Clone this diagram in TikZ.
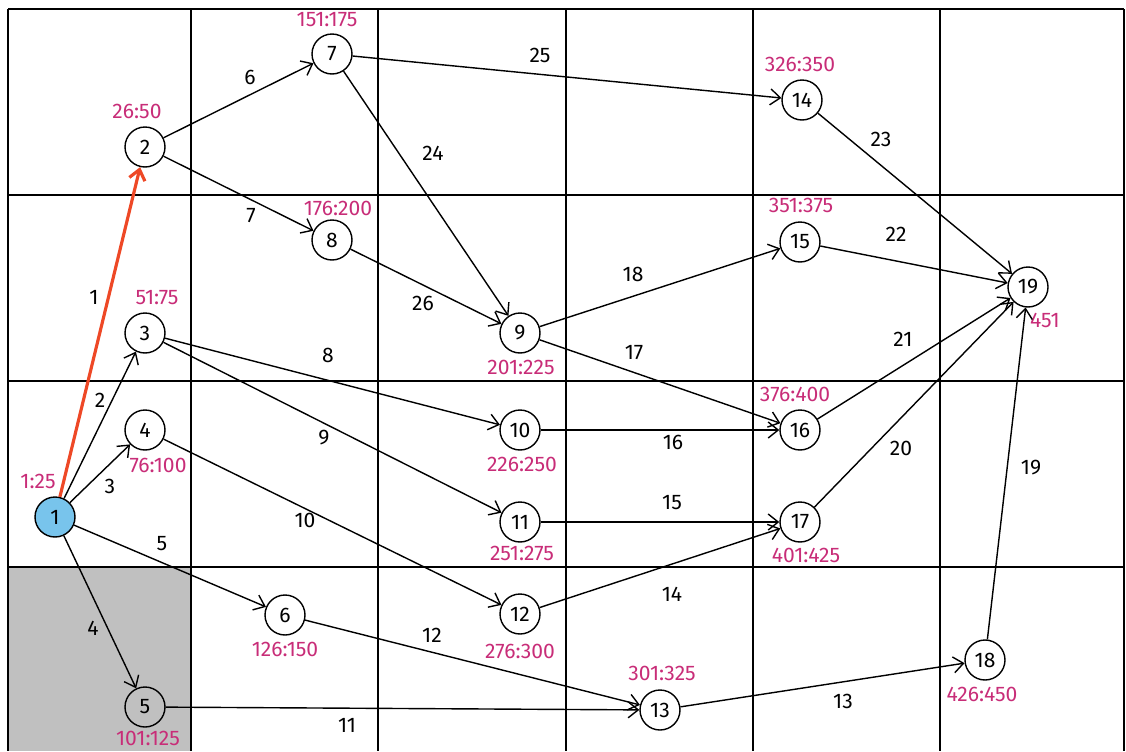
\documentclass[tikz,border=0pt]{standalone}
\usepackage{fontspec}
\setmainfont{Fira Sans}
\usetikzlibrary{arrows.meta}
\definecolor{tagpink}{RGB}{200,45,120}
\definecolor{startblue}{RGB}{120,196,236}
\definecolor{critred}{RGB}{238,72,38}
\definecolor{cellgray}{RGB}{192,192,192}

\begin{document}
\begin{tikzpicture}[
  x=0.02cm, y=-0.02cm,
  font=\large,
  state/.style={draw, circle, minimum size=0.8cm, inner sep=0pt,
                line width=0.8pt, fill=white},
  tag/.style={text=tagpink},
  elbl/.style={inner sep=1pt},
  arc/.style={->, line width=0.8pt},
  >={Straight Barb[length=2mm, width=3.2mm]}
]
\useasboundingbox (0,0) rectangle (1126,751);
% grid
\fill[cellgray] (8,567) rectangle (191,751);
\foreach \x in {8,191,378,566,753,940,1124}
  \draw[line width=0.9pt] (\x,9) -- (\x,751);
\foreach \y in {9,195,381,567}
  \draw[line width=0.9pt] (8,\y) -- (1124,\y);

% states
\node[state, fill=startblue] (n1) at (55,517) {1};
\node[state] (n2) at (145,147) {2};
\node[state] (n3) at (145,333) {3};
\node[state] (n4) at (145,430) {4};
\node[state, fill=none] (n5) at (145,707) {5};
\node[state] (n6) at (285,615) {6};
\node[state] (n7) at (332,54) {7};
\node[state] (n8) at (332,240) {8};
\node[state] (n9) at (520,333) {9};
\node[state] (n10) at (520,430) {10};
\node[state] (n11) at (520,522) {11};
\node[state] (n12) at (520,614) {12};
\node[state] (n13) at (660,710) {13};
\node[state] (n14) at (802,100) {14};
\node[state] (n15) at (800,242) {15};
\node[state] (n16) at (800,430) {16};
\node[state] (n17) at (800,522) {17};
\node[state] (n18) at (985,660) {18};
\node[state] (n19) at (1028,287) {19};

% ranges
\node[tag] (t1) at (38,481) {1:25};
\node[tag] (t2) at (137,111) {26:50};
\node[tag] (t3) at (157,298) {51:75};
\node[tag] (t4) at (158,465) {76:100};
\node[tag] (t5) at (148,738) {101:125};
\node[tag] (t6) at (285,649) {126:150};
\node[tag] (t7) at (327,20) {151:175};
\node[tag] (t8) at (338,208) {176:200};
\node[tag] (t9) at (521,367) {201:225};
\node[tag] (t10) at (522,464) {226:250};
\node[tag] (t11) at (522,553) {251:275};
\node[tag] (t12) at (520,651) {276:300};
\node[tag] (t13) at (662,673) {301:325};
\node[tag] (t14) at (800,64) {326:350};
\node[tag] (t15) at (801,205) {351:375};
\node[tag] (t16) at (795,394) {376:400};
\node[tag] (t17) at (806,555) {401:425};
\node[tag] (t18) at (982,694) {426:450};
\node[tag] (t19) at (1045,320) {451};

% arcs
\draw[->, critred, line width=1.8pt] (n1) -- (n2);
\draw[arc] (n1) -- (n3);
\draw[arc] (n1) -- (n4);
\draw[arc] (n1) -- (n5);
\draw[arc] (n1) -- (n6);
\draw[arc] (n2) -- (n7);
\draw[arc] (n2) -- (n8);
\draw[arc] (n3) -- (n10);
\draw[arc] (n3) -- (n11);
\draw[arc] (n4) -- (n12);
\draw[arc] (n5) -- (n13);
\draw[arc] (n6) -- (n13);
\draw[arc] (n13) -- (n18);
\draw[arc] (n12) -- (n17);
\draw[arc] (n11) -- (n17);
\draw[arc] (n10) -- (n16);
\draw[arc] (n9) -- (n16);
\draw[arc] (n9) -- (n15);
\draw[arc] (n18) -- (n19);
\draw[arc] (n17) -- (n19);
\draw[arc] (n16) -- (n19);
\draw[arc] (n15) -- (n19);
\draw[arc] (n14) -- (n19);
\draw[arc] (n7) -- (n9);
\draw[arc] (n7) -- (n14);
\draw[arc] (n8) -- (n9);

% arc numbers
\node[elbl] (a1) at (94,297) {1};
\node[elbl] (a2) at (100,400) {2};
\node[elbl] (a3) at (110,486) {3};
\node[elbl] (a4) at (93,628) {4};
\node[elbl] (a5) at (162,544) {5};
\node[elbl] (a6) at (250,77) {6};
\node[elbl] (a7) at (251,216) {7};
\node[elbl] (a8) at (328,355) {8};
\node[elbl] (a9) at (324,438) {9};
\node[elbl] (a10) at (305,520) {10};
\node[elbl] (a11) at (347,725) {11};
\node[elbl] (a12) at (432,635) {12};
\node[elbl] (a13) at (843,701) {13};
\node[elbl] (a14) at (672,594) {14};
\node[elbl] (a15) at (672,503) {15};
\node[elbl] (a16) at (673,442) {16};
\node[elbl] (a17) at (634,353) {17};
\node[elbl] (a18) at (633,274) {18};
\node[elbl] (a19) at (1031,468) {19};
\node[elbl] (a20) at (901,448) {20};
\node[elbl] (a21) at (903,339) {21};
\node[elbl] (a22) at (896,234) {22};
\node[elbl] (a23) at (881,139) {23};
\node[elbl] (a24) at (433,153) {24};
\node[elbl] (a25) at (540,55) {25};
\node[elbl] (a26) at (423,303) {26};
\end{tikzpicture}
\end{document}
